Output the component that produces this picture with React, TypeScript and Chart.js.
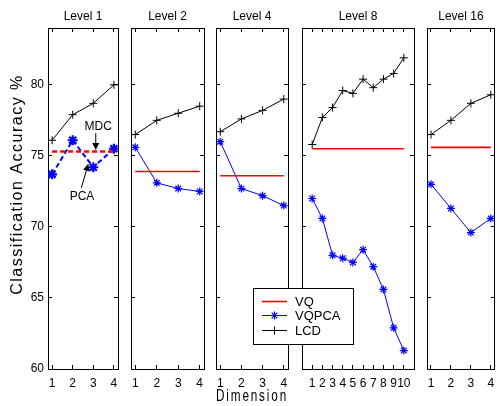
import React, { useEffect, useRef } from 'react';
import { Chart, registerables } from 'chart.js';

Chart.register(...registerables);

// ---------------- data ----------------
const levelTitles = ['Level 1', 'Level 2', 'Level 4', 'Level 8', 'Level 16'];
const dims4 = [1, 2, 3, 4];
const dims10 = [1, 2, 3, 4, 5, 6, 7, 8, 9, 10];
const yTicks = [60, 65, 70, 75, 80];
const legendLabels = ['VQ', 'VQPCA', 'LCD'];

const lcdLevel1 = [76.1, 77.9, 78.7, 80.0];
const pcaLevel1 = [73.7, 76.1, 74.2, 75.5];
const mdcLevel1 = 75.3;

const lcdLevel2 = [76.5, 77.5, 78.0, 78.5];
const vqpcaLevel2 = [75.6, 73.1, 72.7, 72.5];
const vqLevel2 = 73.9;

const lcdLevel4 = [76.7, 77.6, 78.2, 79.0];
const vqpcaLevel4 = [76.0, 72.7, 72.2, 71.5];
const vqLevel4 = 73.6;

const lcdLevel8 = [75.8, 77.7, 78.4, 79.6, 79.4, 80.4, 79.8, 80.4, 80.8, 81.9];
const vqpcaLevel8 = [72.0, 70.6, 68.0, 67.8, 67.5, 68.4, 67.2, 65.6, 62.9, 61.3];
const vqLevel8 = 75.5;

const lcdLevel16 = [76.5, 77.5, 78.7, 79.3];
const vqpcaLevel16 = [73.0, 71.3, 69.6, 70.6];
const vqLevel16 = 75.6;

// annotation positions in data units (Level 1 panel)
const mdcNote = { text: 'MDC', x: 3.24, y: 77.05, from: [3.12, 76.6], to: [3.12, 75.42] };
const pcaNote = { text: 'PCA', x: 2.45, y: 72.1, from: [2.42, 72.75], to: [2.76, 74.45] };

// ---------------- layout ----------------
const W = 500;
const H = 406;
const PLOT_TOP = 28;
const PLOT_BOTTOM = 369;
const FONT = "'Liberation Sans', Arial, Helvetica, sans-serif";

type PanelCfg = {
  title: string;
  dims: number[];
  vq: number;
  vqpca: number[];
  lcd: number[];
  left: number;
  right: number;
  xMin: number;
  xMax: number;
  first?: boolean;
  dimTitle?: boolean;
  legend?: boolean;
};

const panels: PanelCfg[] = [
  { title: levelTitles[0], dims: dims4, vq: mdcLevel1, vqpca: pcaLevel1, lcd: lcdLevel1, left: 48, right: 118, xMin: 0.8, xMax: 4.2, first: true },
  { title: levelTitles[1], dims: dims4, vq: vqLevel2, vqpca: vqpcaLevel2, lcd: lcdLevel2, left: 131, right: 204, xMin: 0.8, xMax: 4.2 },
  { title: levelTitles[2], dims: dims4, vq: vqLevel4, vqpca: vqpcaLevel4, lcd: lcdLevel4, left: 216, right: 288, xMin: 0.8, xMax: 4.2, dimTitle: true },
  { title: levelTitles[3], dims: dims10, vq: vqLevel8, vqpca: vqpcaLevel8, lcd: lcdLevel8, left: 302, right: 414, xMin: 0, xMax: 11, legend: true },
  { title: levelTitles[4], dims: dims4, vq: vqLevel16, vqpca: vqpcaLevel16, lcd: lcdLevel16, left: 427, right: 497, xMin: 0.8, xMax: 4.2 },
];

function patchTitle(scale: any, spacing: string, dy: number) {
  if (scale.__patched) return;
  const orig = scale.drawTitle.bind(scale);
  scale.drawTitle = () => {
    const c = scale.ctx;
    c.save();
    (c as any).letterSpacing = spacing;
    c.translate(0, dy);
    orig();
    c.restore();
  };
  scale.__patched = true;
}

function drawArrow(ctx: CanvasRenderingContext2D, x1: number, y1: number, x2: number, y2: number) {
  const ang = Math.atan2(y2 - y1, x2 - x1);
  const len = 7;
  const hw = 3.5;
  ctx.beginPath();
  ctx.moveTo(x1, y1);
  ctx.lineTo(x2 - Math.cos(ang) * len * 0.6, y2 - Math.sin(ang) * len * 0.6);
  ctx.stroke();
  ctx.beginPath();
  ctx.moveTo(x2, y2);
  ctx.lineTo(x2 - Math.cos(ang) * len + Math.sin(ang) * hw, y2 - Math.sin(ang) * len - Math.cos(ang) * hw);
  ctx.lineTo(x2 - Math.cos(ang) * len - Math.sin(ang) * hw, y2 - Math.sin(ang) * len + Math.cos(ang) * hw);
  ctx.closePath();
  ctx.fill();
}

const notesPlugin = {
  id: 'notes',
  afterDraw(chart: any) {
    const { ctx } = chart;
    const xs = chart.scales.x;
    const ys = chart.scales.y;
    ctx.save();
    ctx.fillStyle = '#000';
    ctx.strokeStyle = '#000';
    ctx.lineWidth = 1;
    ctx.font = `12px ${FONT}`;
    ctx.textAlign = 'center';
    ctx.textBaseline = 'middle';
    for (const n of [mdcNote, pcaNote]) {
      ctx.fillText(n.text, xs.getPixelForValue(n.x), ys.getPixelForValue(n.y));
      drawArrow(
        ctx,
        xs.getPixelForValue(n.from[0]), ys.getPixelForValue(n.from[1]),
        xs.getPixelForValue(n.to[0]), ys.getPixelForValue(n.to[1])
      );
    }
    ctx.restore();
  },
};

function drawCross(ctx: CanvasRenderingContext2D, x: number, y: number, r: number) {
  ctx.beginPath();
  ctx.moveTo(x - r, y); ctx.lineTo(x + r, y);
  ctx.moveTo(x, y - r); ctx.lineTo(x, y + r);
  ctx.stroke();
}
function drawStar(ctx: CanvasRenderingContext2D, x: number, y: number, r: number) {
  drawCross(ctx, x, y, r);
  const d = r * Math.SQRT1_2;
  ctx.beginPath();
  ctx.moveTo(x - d, y - d); ctx.lineTo(x + d, y + d);
  ctx.moveTo(x - d, y + d); ctx.lineTo(x + d, y - d);
  ctx.stroke();
}

const legendPlugin = {
  id: 'legendBox',
  afterDraw(chart: any) {
    const { ctx } = chart;
    const bx = 253, by = 288, bw = 100, bh = 56;
    ctx.save();
    ctx.fillStyle = '#ffffff';
    ctx.fillRect(bx, by, bw, bh);
    ctx.strokeStyle = '#000';
    ctx.lineWidth = 1;
    ctx.strokeRect(bx + 0.5, by + 0.5, bw, bh);
    const colors = ['#ff0000', '#0000ff', '#000000'];
    const widths = [1.6, 1, 1];
    const rowY = [301.5, 315.5, 330.5];
    ctx.font = `13px ${FONT}`;
    ctx.textBaseline = 'middle';
    ctx.textAlign = 'left';
    legendLabels.forEach((lab, i) => {
      ctx.strokeStyle = colors[i];
      ctx.lineWidth = widths[i];
      ctx.beginPath();
      ctx.moveTo(262, rowY[i]);
      ctx.lineTo(287, rowY[i]);
      ctx.stroke();
      if (i === 1) { ctx.lineWidth = 1.2; drawStar(ctx, 274.5, rowY[i], 4); }
      if (i === 2) { ctx.lineWidth = 1; drawCross(ctx, 274.5, rowY[i], 4); }
      ctx.fillStyle = '#000';
      ctx.fillText(lab, 295, rowY[i] + 0.5);
    });
    ctx.restore();
  },
};

function buildConfig(p: PanelCfg): any {
  const pts = (vals: number[]) => p.dims.map((d, i) => ({ x: d, y: vals[i] }));
  const dashed = p.first ? [5, 3] : [];
  const lw = p.first ? 2 : 1;
  const gridOpts = { drawOnChartArea: false, drawTicks: true, tickLength: -4, color: '#000', lineWidth: 1 };
  const borderOpts = { display: true, color: '#000', width: 1 };
  const xTicks = (s: any) => { s.ticks = p.dims.map((v) => ({ value: v })); };
  const yT = (s: any) => { s.ticks = yTicks.map((v) => ({ value: v })); };

  return {
    type: 'line',
    data: {
      datasets: [
        {
          label: p.first ? 'MDC' : legendLabels[0],
          data: [
            { x: p.dims[0], y: p.vq },
            { x: p.dims[p.dims.length - 1], y: p.vq },
          ],
          borderColor: '#ff0000',
          borderWidth: p.first ? 2.5 : 1.6,
          borderDash: dashed,
          pointRadius: 0,
          fill: false,
        },
        {
          label: p.first ? 'PCA' : legendLabels[1],
          data: pts(p.vqpca),
          borderColor: '#0000ff',
          borderWidth: lw,
          borderDash: dashed,
          pointStyle: 'star',
          pointRadius: p.first ? 5 : 4,
          pointBorderColor: '#0000ff',
          pointBackgroundColor: '#0000ff',
          pointBorderWidth: p.first ? 2.2 : 1.2,
          fill: false,
        },
        {
          label: legendLabels[2],
          data: pts(p.lcd),
          borderColor: '#000000',
          borderWidth: 1,
          pointStyle: 'cross',
          pointRadius: 4,
          pointBorderColor: '#000000',
          pointBorderWidth: 1,
          fill: false,
        },
      ],
    },
    options: {
      responsive: false,
      animation: false,
      events: [],
      layout: { padding: 0 },
      plugins: {
        legend: { display: false },
        title: { display: false },
        tooltip: { enabled: false },
      },
      elements: { line: { tension: 0 } },
      scales: {
        x: {
          type: 'linear',
          position: 'bottom',
          min: p.xMin,
          max: p.xMax,
          afterBuildTicks: xTicks,
          afterFit: (s: any) => {
            s.height = H - PLOT_BOTTOM;
            s.paddingLeft = 0;
            s.paddingRight = 0;
            if (p.dimTitle) patchTitle(s, '2.5px', 0);
          },
          grid: gridOpts,
          border: borderOpts,
          ticks: {
            autoSkip: false,
            maxRotation: 0,
            minRotation: 0,
            padding: 11,
            color: '#000',
            font: { family: FONT, size: 12 },
          },
          title: {
            display: !!p.dimTitle,
            text: 'Dimension',
            color: '#000',
            font: { family: FONT, size: 16 },
            padding: { top: 0, bottom: 0 },
          },
        },
        x2: {
          type: 'linear',
          position: 'top',
          min: p.xMin,
          max: p.xMax,
          afterBuildTicks: xTicks,
          afterFit: (s: any) => {
            s.height = PLOT_TOP;
            s.paddingLeft = 0;
            s.paddingRight = 0;
          },
          grid: gridOpts,
          border: borderOpts,
          ticks: { display: false },
          title: {
            display: true,
            text: p.title,
            color: '#000',
            font: { family: FONT, size: 12 },
            padding: { top: 9, bottom: 0 },
          },
        },
        y: {
          type: 'linear',
          position: 'left',
          min: 60,
          max: 84,
          afterBuildTicks: yT,
          afterFit: (s: any) => {
            s.width = p.left;
            s.paddingTop = 0;
            s.paddingBottom = 0;
            if (p.first) patchTitle(s, '1.5px', -14);
          },
          grid: gridOpts,
          border: borderOpts,
          ticks: {
            display: !!p.first,
            padding: 8,
            color: '#000',
            font: { family: FONT, size: 12 },
          },
          title: {
            display: !!p.first,
            text: 'Classification Accuracy %',
            color: '#000',
            font: { family: FONT, size: 16 },
            padding: { top: 8, bottom: 0 },
          },
        },
        y2: {
          type: 'linear',
          position: 'right',
          min: 60,
          max: 84,
          afterBuildTicks: yT,
          afterFit: (s: any) => {
            s.width = W - p.right;
            s.paddingTop = 0;
            s.paddingBottom = 0;
          },
          grid: gridOpts,
          border: borderOpts,
          ticks: { display: false },
        },
      },
    },
    plugins: [
      ...(p.first ? [notesPlugin] : []),
      ...(p.legend ? [legendPlugin] : []),
    ],
  };
}

function Panel({ cfg }: { cfg: PanelCfg }) {
  const ref = useRef<HTMLCanvasElement>(null);
  useEffect(() => {
    const chart = new Chart(ref.current as HTMLCanvasElement, buildConfig(cfg));
    return () => chart.destroy();
  }, [cfg]);
  return (
    <canvas
      ref={ref}
      width={W}
      height={H}
      style={{ position: 'absolute', left: 0, top: 0, display: 'block', width: W, height: H }}
    />
  );
}

export default function App() {
  return (
    <div style={{ position: 'absolute', left: 0, top: 0, width: W, height: H, background: '#fff' }}>
      {panels.map((p, i) => (
        <Panel key={i} cfg={p} />
      ))}
    </div>
  );
}
